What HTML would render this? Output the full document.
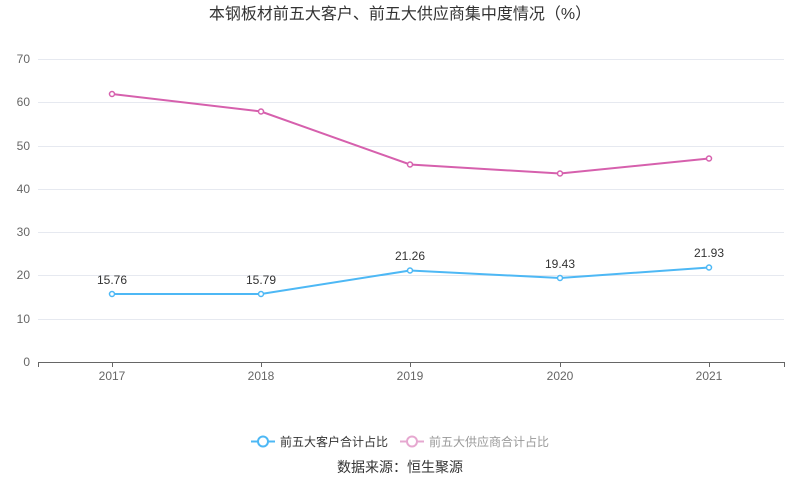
<!DOCTYPE html>
<html><head><meta charset="utf-8"><style>
html,body{margin:0;padding:0;background:#fff;width:800px;height:501px;overflow:hidden}
text{font-family:"Liberation Sans","Noto Sans CJK SC",sans-serif}
</style></head><body>
<svg width="800" height="501" viewBox="0 0 800 501" xmlns="http://www.w3.org/2000/svg">
<text x="400" y="19" text-anchor="middle" font-size="16" fill="#333">本钢板材前五大客户、前五大供应商集中度情况（%）</text>
<g stroke="#e6e9f0" stroke-width="1">
<line x1="38" x2="784" y1="59.5" y2="59.5"/><line x1="38" x2="784" y1="102.5" y2="102.5"/>
<line x1="38" x2="784" y1="146.5" y2="146.5"/><line x1="38" x2="784" y1="189.5" y2="189.5"/>
<line x1="38" x2="784" y1="232.5" y2="232.5"/><line x1="38" x2="784" y1="275.5" y2="275.5"/>
<line x1="38" x2="784" y1="319.5" y2="319.5"/>
</g>
<line x1="38" x2="784" y1="362.5" y2="362.5" stroke="#666"/>
<g stroke="#666"><line x1="112.5" x2="112.5" y1="362" y2="367"/><line x1="261.5" x2="261.5" y1="362" y2="367"/><line x1="410.5" x2="410.5" y1="362" y2="367"/><line x1="560.5" x2="560.5" y1="362" y2="367"/><line x1="709.5" x2="709.5" y1="362" y2="367"/><line x1="38.5" x2="38.5" y1="362" y2="367"/><line x1="784.5" x2="784.5" y1="362" y2="367"/></g>
<g font-size="12" fill="#666" text-anchor="end">
<text x="30" y="63">70</text><text x="30" y="106">60</text><text x="30" y="150">50</text><text x="30" y="193">40</text><text x="30" y="236">30</text><text x="30" y="279">20</text><text x="30" y="323">10</text><text x="30" y="366">0</text>
</g>
<g font-size="12" fill="#666" text-anchor="middle">
<text x="112" y="380">2017</text><text x="261" y="380">2018</text><text x="410" y="380">2019</text><text x="560" y="380">2020</text><text x="709" y="380">2021</text>
</g>
<polyline points="112,94 261,111.5 410,164.5 560,173.5 709,158.5" fill="none" stroke="#d660ad" stroke-width="2"/>
<g fill="#fff" stroke="#d660ad" stroke-width="1.5"><circle cx="112" cy="94" r="2.5"/><circle cx="261" cy="111.5" r="2.5"/><circle cx="410" cy="164.5" r="2.5"/><circle cx="560" cy="173.5" r="2.5"/><circle cx="709" cy="158.5" r="2.5"/></g>
<polyline points="112,294 261,294 410,270.5 560,278 709,267.5" fill="none" stroke="#4db8f5" stroke-width="2"/>
<g fill="#fff" stroke="#4db8f5" stroke-width="1.5"><circle cx="112" cy="294" r="2.5"/><circle cx="261" cy="294" r="2.5"/><circle cx="410" cy="270.5" r="2.5"/><circle cx="560" cy="278" r="2.5"/><circle cx="709" cy="267.5" r="2.5"/></g>
<g font-size="12" fill="#333" text-anchor="middle">
<text x="112" y="284">15.76</text><text x="261" y="284">15.79</text><text x="410" y="260">21.26</text><text x="560" y="268">19.43</text><text x="709" y="257">21.93</text>
</g>
<line x1="251" x2="275" y1="441.5" y2="441.5" stroke="#4db8f5" stroke-width="2"/>
<circle cx="263" cy="441.5" r="5" fill="#fff" stroke="#4db8f5" stroke-width="2"/>
<text x="280" y="446" font-size="12" fill="#333">前五大客户合计占比</text>
<line x1="400" x2="424" y1="441.5" y2="441.5" stroke="#e6a8d0" stroke-width="2"/>
<circle cx="412" cy="441.5" r="5" fill="#fff" stroke="#e6a8d0" stroke-width="2"/>
<text x="429" y="446" font-size="12" fill="#999">前五大供应商合计占比</text>
<text x="400" y="472" text-anchor="middle" font-size="14" fill="#333">数据来源：恒生聚源</text>
</svg>
</body></html>
